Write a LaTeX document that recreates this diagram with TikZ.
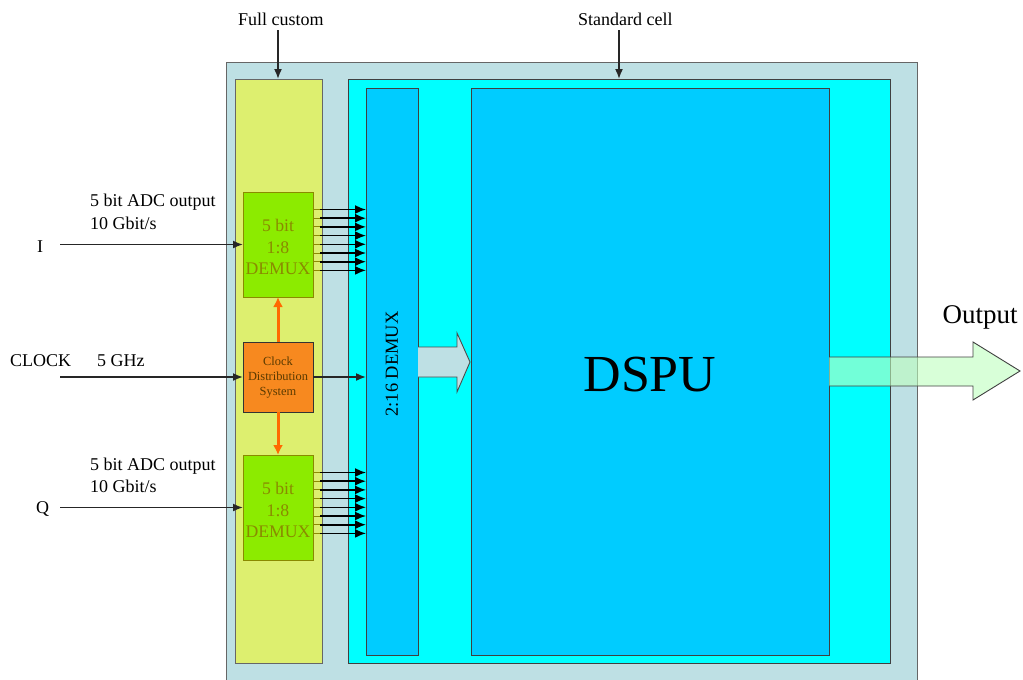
\documentclass[tikz,border=0pt]{standalone}
\usepackage{fontspec}
\setmainfont{Liberation Serif}
\usetikzlibrary{arrows.meta}
\definecolor{outerc}{HTML}{BEE0E4}
\definecolor{yellowc}{HTML}{DDEF6F}
\definecolor{cyanc}{HTML}{00FFFF}
\definecolor{bluec}{HTML}{00CCFF}
\definecolor{limec}{HTML}{8CEB00}
\definecolor{orangec}{HTML}{F7891F}
\definecolor{olivec}{HTML}{8A8A00}
\definecolor{brownc}{HTML}{5A3A00}
\definecolor{arroworange}{HTML}{FF6A00}
\definecolor{outgreen}{RGB}{190,255,190}
\begin{document}
\begin{tikzpicture}[x=1pt,y=-1pt,
  blk/.style={draw=black!75,line width=1pt,inner sep=0pt,outer sep=0pt},
  lbl/.style={font=\fontsize{18}{21}\selectfont,inner sep=0pt,anchor=base west},
  sig/.style={black!85,line width=1.6pt,-{Latex[length=10pt,width=8pt]}},
  dat/.style={black,line width=1.6pt,-{Latex[length=11pt,width=9pt]}},
  orng/.style={arroworange,line width=3pt,-{Latex[length=10pt,width=10pt]}}]
\useasboundingbox (0,0) rectangle (1023,680);
% outer box
\fill[outerc] (226,62) rectangle (917,680);
\draw[black!60,line width=1pt] (226,680) -- (226,62) -- (917,62) -- (917,680);
% main blocks
\node[blk,fill=yellowc,draw=black!60,minimum width=87pt,minimum height=584pt] (yellow) at (278.5,371) {};
\node[blk,fill=cyanc,minimum width=542pt,minimum height=584pt] (cyan) at (619,371) {};
\node[blk,fill=bluec,minimum width=52pt,minimum height=567pt] (demux216) at (392,371.5) {};
\node[blk,fill=bluec,minimum width=358pt,minimum height=567pt] (dspu) at (650,371.5) {};
\node[font=\fontsize{52}{52}\selectfont,inner sep=0pt] (dsputxt) at (650,375) {DSPU};
\node[font=\fontsize{18.4}{20}\selectfont,inner sep=0pt,rotate=90] (demuxtxt) at (392,364) {2:16 DEMUX};
% small boxes
\node[blk,fill=limec,draw=olivec,minimum width=70pt,minimum height=105pt] (demuxI) at (278,244.5) {};
\node[blk,fill=orangec,draw=black!80,minimum width=70pt,minimum height=70pt] (clock) at (278,377) {};
\node[blk,fill=limec,draw=olivec,minimum width=70pt,minimum height=105pt] (demuxQ) at (278,507.5) {};
\node[font=\fontsize{17.7}{21.5}\selectfont,text=olivec,align=center,inner sep=0pt] (tI) at (278,247) {5 bit\\1:8\\DEMUX};
\node[font=\fontsize{17.7}{21.5}\selectfont,text=olivec,align=center,inner sep=0pt] (tQ) at (278,510) {5 bit\\1:8\\DEMUX};
\node[font=\fontsize{12.4}{15}\selectfont,text=brownc,align=center,inner sep=0pt] (tC) at (278,378) {Clock\\Distribution\\System};
% orange clock arrows
\draw[orng] (clock.north) -- (demuxI.south);
\draw[orng] (clock.south) -- (demuxQ.north);
% data lines
\foreach \i/\d in {1/17.5,2/26.2,3/34.9,4/43.6,5/52.3,6/61,7/69.7,8/78.4}{
  \path ([yshift=-\d pt]demuxI.north east) coordinate (a\i);
  \path ([xshift=7pt]a\i) coordinate (b\i);
  \draw[olivec,line width=1pt] (a\i) -- (b\i);
  \draw[dat] (b\i) -- (b\i -| demux216.west);
  \path ([yshift=-\d pt]demuxQ.north east) coordinate (c\i);
  \path ([xshift=7pt]c\i) coordinate (e\i);
  \draw[olivec,line width=1pt] (c\i) -- (e\i);
  \draw[dat] (e\i) -- (e\i -| demux216.west);
}
% inputs
\coordinate (Iin) at (60,244.5);
\coordinate (Cin) at (60,377);
\coordinate (Qin) at (60,507.5);
\node[lbl] (lI) at (37,252) {I};
\node[lbl] (lQ) at (36,513) {Q};
\node[lbl] (lC) at (10,366) {CLOCK};
\node[lbl] (lG) at (97,366) {5 GHz};
\node[lbl] (lI1) at (90,206) {5 bit ADC output};
\node[lbl] (lI2) at (90,229) {10 Gbit/s};
\node[lbl] (lQ1) at (90,470) {5 bit ADC output};
\node[lbl] (lQ2) at (90,492) {10 Gbit/s};
\draw[sig] (Iin) -- (demuxI.west);
\draw[sig] (Cin) -- (clock.west);
\draw[sig] (Qin) -- (demuxQ.west);
\draw[sig] (clock.east) -- (clock.east -| demux216.west);
% top labels
\node[lbl] (fc) at (238,25) {Full custom};
\node[lbl] (sc) at (578,25) {Standard cell};
\coordinate (fcs) at (278,30);
\coordinate (scs) at (619,30);
\draw[sig] (fcs) -- (fcs |- yellow.north);
\draw[sig] (scs) -- (scs |- cyan.north);
% fat arrow demux -> dspu
\draw[fill=outerc,draw=black!70,line width=0.9pt] (418,347) -- (457,347) -- (457,333) -- (470,362) -- (457,392) -- (457,377) -- (418,377);
% output arrow
\fill[outgreen,opacity=0.6] (829,357) -- (973,357) -- (973,342) -- (1020,371) -- (973,400) -- (973,386) -- (829,386) -- cycle;
\draw[black!75,line width=0.9pt] (829,357) -- (973,357) -- (973,342) -- (1020,371) -- (973,400) -- (973,386) -- (829,386);
\node[font=\fontsize{27}{30}\selectfont,inner sep=0pt,anchor=base] (outl) at (980,323) {Output};
\end{tikzpicture}
\end{document}
